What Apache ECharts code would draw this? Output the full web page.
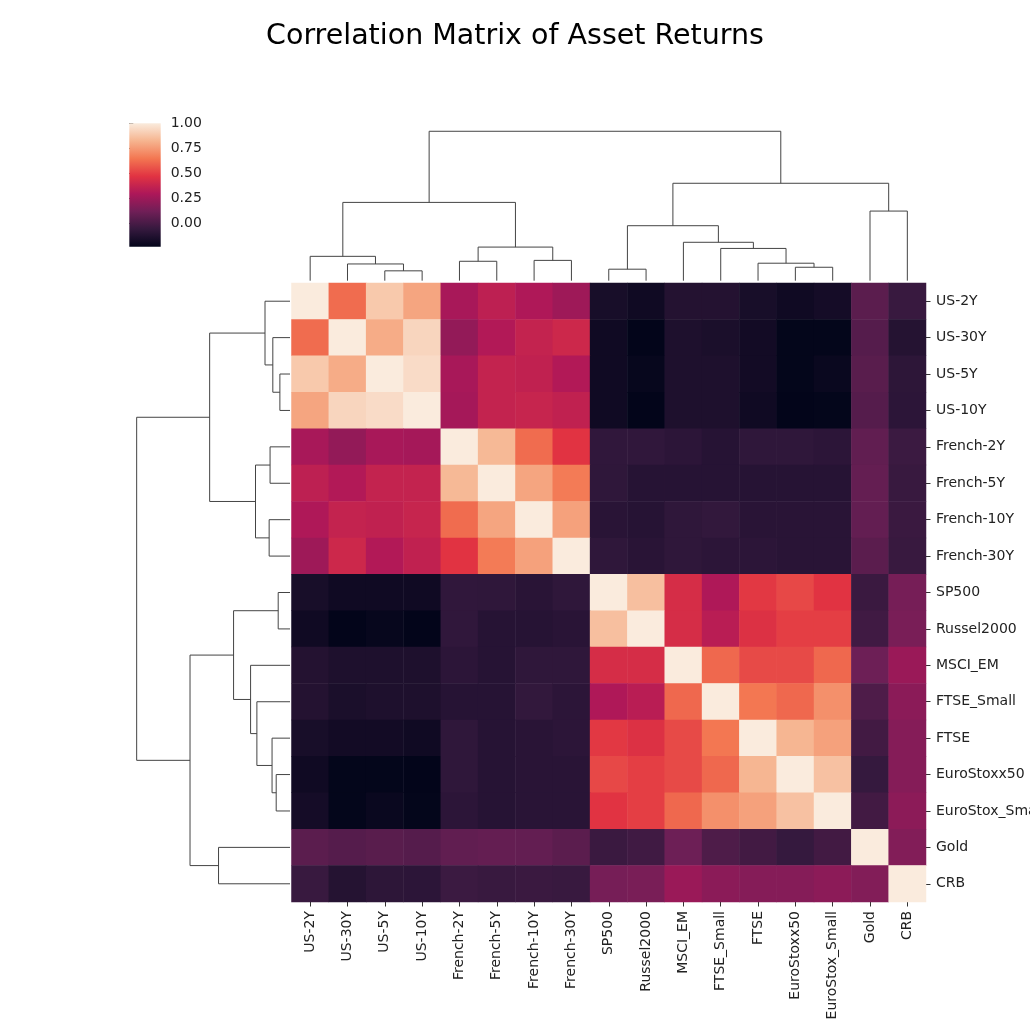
<!DOCTYPE html>
<html><head><meta charset="utf-8">
<script src="https://cdn.jsdelivr.net/npm/echarts@6/dist/echarts.min.js"></script>
<style>html,body{margin:0;padding:0;background:#fff}#c{width:1030px;height:1030px}</style>
</head><body><div id="c"></div>
<script>
// ---- data ----
const assets = ['US-2Y','US-30Y','US-5Y','US-10Y','French-2Y','French-5Y','French-10Y','French-30Y',
  'SP500','Russel2000','MSCI_EM','FTSE_Small','FTSE','EuroStoxx50','EuroStox_Small','Gold','CRB'];

const corrUS2Y   = [1.00, 0.62, 0.89, 0.78, 0.28, 0.35, 0.30, 0.25, -0.16, -0.19, -0.12, -0.12, -0.16, -0.19, -0.17, 0.056, -0.05];
const corrUS30Y  = [0.62, 1.00, 0.80, 0.93, 0.22, 0.31, 0.37, 0.40, -0.19, -0.235, -0.14, -0.15, -0.18, -0.23, -0.23, 0.037, -0.115];
const corrUS5Y   = [0.89, 0.80, 1.00, 0.95, 0.28, 0.37, 0.36, 0.31, -0.19, -0.22, -0.14, -0.14, -0.18, -0.23, -0.21, 0.05, -0.086];
const corrUS10Y  = [0.78, 0.93, 0.95, 1.00, 0.27, 0.37, 0.38, 0.36, -0.19, -0.235, -0.14, -0.14, -0.19, -0.235, -0.23, 0.038, -0.09];
const corrFR2Y   = [0.28, 0.22, 0.28, 0.27, 1.00, 0.84, 0.62, 0.47, -0.075, -0.075, -0.09, -0.11, -0.08, -0.08, -0.09, 0.074, -0.04];
const corrFR5Y   = [0.35, 0.31, 0.37, 0.37, 0.84, 1.00, 0.78, 0.66, -0.08, -0.11, -0.11, -0.11, -0.11, -0.11, -0.11, 0.082, -0.05];
const corrFR10Y  = [0.30, 0.37, 0.36, 0.38, 0.62, 0.78, 1.00, 0.77, -0.10, -0.11, -0.08, -0.07, -0.10, -0.10, -0.10, 0.08, -0.045];
const corrFR30Y  = [0.25, 0.40, 0.31, 0.36, 0.47, 0.66, 0.77, 1.00, -0.08, -0.10, -0.08, -0.09, -0.09, -0.10, -0.10, 0.056, -0.05];
const corrSP500  = [-0.16, -0.19, -0.19, -0.19, -0.075, -0.08, -0.10, -0.08, 1.00, 0.86, 0.43, 0.30, 0.485, 0.525, 0.47, -0.045, 0.135];
const corrRUS    = [-0.19, -0.235, -0.22, -0.235, -0.075, -0.11, -0.11, -0.10, 0.86, 1.00, 0.43, 0.335, 0.455, 0.50, 0.50, -0.025, 0.145];
const corrMSCI   = [-0.12, -0.14, -0.14, -0.14, -0.09, -0.11, -0.08, -0.08, 0.43, 0.43, 1.00, 0.61, 0.53, 0.53, 0.61, 0.11, 0.24];
const corrFTSES  = [-0.12, -0.15, -0.14, -0.14, -0.11, -0.11, -0.07, -0.09, 0.30, 0.335, 0.61, 1.00, 0.65, 0.61, 0.72, 0.016, 0.197];
const corrFTSE   = [-0.16, -0.18, -0.18, -0.19, -0.08, -0.11, -0.10, -0.09, 0.485, 0.455, 0.53, 0.65, 1.00, 0.83, 0.77, -0.02, 0.18];
const corrES50   = [-0.19, -0.23, -0.23, -0.235, -0.08, -0.11, -0.10, -0.10, 0.525, 0.50, 0.53, 0.61, 0.83, 1.00, 0.866, -0.06, 0.18];
const corrESS    = [-0.17, -0.23, -0.21, -0.23, -0.09, -0.11, -0.10, -0.10, 0.47, 0.50, 0.61, 0.72, 0.77, 0.866, 1.00, -0.02, 0.20];
const corrGold   = [0.056, 0.037, 0.05, 0.038, 0.074, 0.082, 0.08, 0.056, -0.045, -0.025, 0.11, 0.016, -0.02, -0.06, -0.02, 1.00, 0.17];
const corrCRB    = [-0.05, -0.115, -0.086, -0.09, -0.04, -0.05, -0.045, -0.05, 0.135, 0.145, 0.24, 0.197, 0.18, 0.18, 0.20, 0.17, 1.00];

const corr = [corrUS2Y, corrUS30Y, corrUS5Y, corrUS10Y, corrFR2Y, corrFR5Y, corrFR10Y, corrFR30Y,
  corrSP500, corrRUS, corrMSCI, corrFTSES, corrFTSE, corrES50, corrESS, corrGold, corrCRB];

// linkage: leaves 0..16, new clusters numbered 17.. in order
const linkPairs = [[2,3],[1,17],[0,18],[4,5],[6,7],[20,21],[19,22],[8,9],[13,14],[12,25],[11,26],[10,27],[24,28],[15,16],[29,30],[23,31]];
const linkHeights = [0.066, 0.112, 0.163, 0.130, 0.136, 0.225, 0.524, 0.077, 0.090, 0.117, 0.216, 0.257, 0.368, 0.466, 0.652, 1.0];

const cbTicks = [0, 0.25, 0.5, 0.75, 1.0];
const rocket = ['#03051a','#35193e','#701f57','#ad1759','#e13342','#f37651','#f6b48f','#faebdd'];

// ---- build ----
const n = assets.length;
const heatData = [];
let vmin = Infinity;
for (let i = 0; i < n; i++) for (let j = 0; j < n; j++) {
  heatData.push([j, i, corr[i][j]]);
  vmin = Math.min(vmin, corr[i][j]);
}
const pos = [], hgt = [];
for (let i = 0; i < n; i++) { pos.push(i + 0.5); hgt.push(0); }
const dendro = [];
linkPairs.forEach((p, k) => {
  const a = p[0], b = p[1], h = linkHeights[k];
  dendro.push([pos[a], hgt[a], pos[b], hgt[b], h]);
  pos.push((pos[a] + pos[b]) / 2); hgt.push(h);
});

const font = 'DejaVu Sans';
const txt = '#222';
const HM = {left: 291.5, top: 283, width: 634.5, height: 619};
const chart = echarts.init(document.getElementById('c'), null, {renderer: 'canvas'});

const lineStyle = {stroke: '#444', lineWidth: 1, fill: null};
const gridBase = {outerBoundsMode: 'none', containLabel: false};

chart.setOption({
  animation: false,
  backgroundColor: '#fff',
  title: {text: 'Correlation Matrix of Asset Returns', left: 'center', top: 17,
    textStyle: {fontFamily: font, fontSize: 28.5, fontWeight: 'normal', color: '#000'}},
  grid: [
    Object.assign({left: HM.left, top: HM.top, width: HM.width, height: HM.height}, gridBase),
    Object.assign({left: HM.left, top: 123.8, width: HM.width, height: 156.9}, gridBase),
    Object.assign({left: 129, top: HM.top, width: 161, height: HM.height}, gridBase),
    Object.assign({left: 129.3, top: 123.3, width: 31.4, height: 123.4}, gridBase)
  ],
  xAxis: [
    {gridIndex: 0, type: 'category', data: assets, position: 'bottom',
      axisLine: {show: false}, splitLine: {show: false},
      axisTick: {show: true, alignWithLabel: true, length: 4.5, lineStyle: {color: '#333'}},
      axisLabel: {rotate: 90, margin: 9, fontFamily: font, fontSize: 14, color: txt, interval: 0}},
    {gridIndex: 1, type: 'value', min: 0, max: n, show: false},
    {gridIndex: 2, type: 'value', min: 0, max: 1.05, inverse: true, show: false},
    {gridIndex: 3, type: 'value', min: 0, max: 1, show: false}
  ],
  yAxis: [
    {gridIndex: 0, type: 'category', data: assets, inverse: true, position: 'right',
      axisLine: {show: false}, splitLine: {show: false},
      axisTick: {show: true, alignWithLabel: true, length: 4.5, lineStyle: {color: '#333'}},
      axisLabel: {margin: 10, fontFamily: font, fontSize: 14, color: txt, interval: 0}},
    {gridIndex: 1, type: 'value', min: 0, max: 1.05, show: false},
    {gridIndex: 2, type: 'value', min: 0, max: n, inverse: true, show: false},
    {gridIndex: 3, type: 'value', min: vmin, max: 1, position: 'right',
      axisLine: {show: false}, splitLine: {show: false},
      axisTick: {show: true, length: 4, customValues: cbTicks, lineStyle: {color: '#333'}},
      axisLabel: {customValues: cbTicks, margin: 10, fontFamily: font, fontSize: 14, color: txt,
        formatter: v => v.toFixed(2)}}
  ],
  visualMap: {type: 'continuous', show: false, min: vmin, max: 1, seriesIndex: 0,
    inRange: {color: rocket}},
  series: [
    {type: 'heatmap', xAxisIndex: 0, yAxisIndex: 0, data: heatData,
      emphasis: {disabled: true}, itemStyle: {borderWidth: 0}},
    {type: 'custom', xAxisIndex: 1, yAxisIndex: 1, data: dendro, silent: true,
      renderItem: (params, api) => {
        const pa = api.value(0), ha = api.value(1), pb = api.value(2), hb = api.value(3), h = api.value(4);
        return {type: 'polyline', shape: {points: [api.coord([pa, ha]), api.coord([pa, h]), api.coord([pb, h]), api.coord([pb, hb])]},
          style: lineStyle};
      }},
    {type: 'custom', xAxisIndex: 2, yAxisIndex: 2, data: dendro, silent: true,
      renderItem: (params, api) => {
        const pa = api.value(0), ha = api.value(1), pb = api.value(2), hb = api.value(3), h = api.value(4);
        return {type: 'polyline', shape: {points: [api.coord([ha, pa]), api.coord([h, pa]), api.coord([h, pb]), api.coord([hb, pb])]},
          style: lineStyle};
      }},
    {type: 'custom', xAxisIndex: 3, yAxisIndex: 3, data: [[0, vmin, 1, 1]], silent: true,
      renderItem: (params, api) => {
        const p0 = api.coord([api.value(0), api.value(1)]);
        const p1 = api.coord([api.value(2), api.value(3)]);
        const stops = rocket.map((c, i) => ({offset: i / (rocket.length - 1), color: c}));
        return {type: 'rect', shape: {x: p0[0], y: p1[1], width: p1[0] - p0[0], height: p0[1] - p1[1]},
          style: {fill: new echarts.graphic.LinearGradient(0, 1, 0, 0, stops)}};
      }}
  ]
});
</script>
</body></html>
